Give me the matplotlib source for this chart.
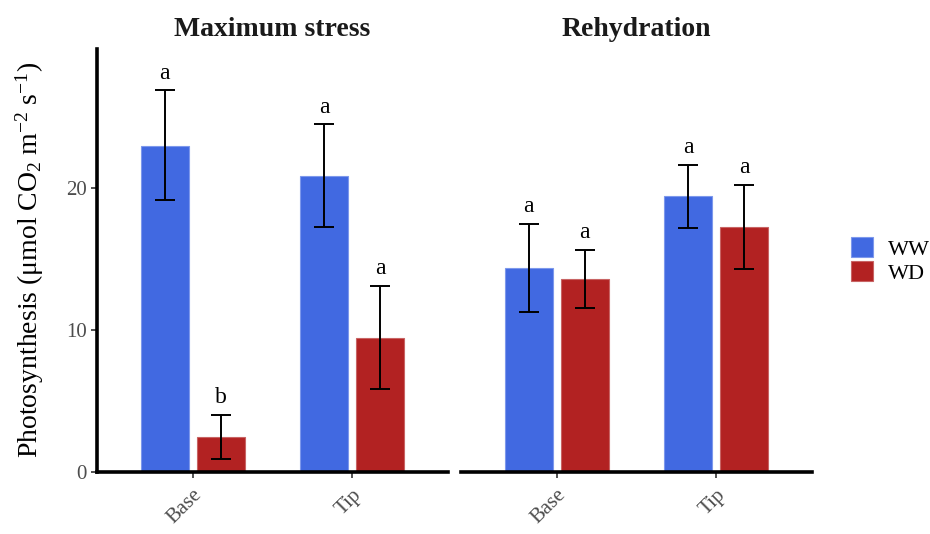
import matplotlib
matplotlib.use("Agg")
import matplotlib.pyplot as plt
import numpy as np
from matplotlib.patches import Patch

plt.rcParams['font.family'] = ['Liberation Serif', 'DejaVu Serif']
plt.rcParams['mathtext.fontset'] = 'custom'
plt.rcParams['mathtext.rm'] = 'Liberation Serif'
plt.rcParams['mathtext.it'] = 'Liberation Serif:italic'
plt.rcParams['mathtext.bf'] = 'Liberation Serif:bold'

# Photosynthesis means, errors and letters for each stage
stages = ['Maximum stress', 'Rehydration']
positions = ['Base', 'Tip']
treatments = ['WW', 'WD']
colors = {'WW': '#4169E1', 'WD': '#B22222'}
edges = {'WW': '#7D98EC', 'WD': '#C86464'}

means = {
    'Maximum stress': {'WW': [23.0, 20.9], 'WD': [2.45, 9.45]},
    'Rehydration': {'WW': [14.35, 19.45], 'WD': [13.6, 17.3]},
}
err_low = {
    'Maximum stress': {'WW': [19.15, 17.3], 'WD': [0.9, 5.8]},
    'Rehydration': {'WW': [11.25, 17.2], 'WD': [11.55, 14.3]},
}
err_high = {
    'Maximum stress': {'WW': [26.9, 24.5], 'WD': [4.0, 13.1]},
    'Rehydration': {'WW': [17.45, 21.65], 'WD': [15.65, 20.25]},
}
letters = {
    'Maximum stress': {'WW': ['a', 'a'], 'WD': ['b', 'a']},
    'Rehydration': {'WW': ['a', 'a'], 'WD': ['a', 'a']},
}

fig = plt.figure(figsize=(9.3, 5.34), dpi=100)
ax_left = fig.add_axes([0.1043, 0.1167, 0.3774, 0.7916])
ax_right = fig.add_axes([0.4957, 0.1167, 0.3774, 0.7916], sharey=ax_left)

x = np.arange(1, len(positions) + 1)
offsets = {'WW': -0.175, 'WD': 0.175}
grey = '#4D4D4D'

for ax, stage in zip([ax_left, ax_right], stages):
    for trt in treatments:
        xs = x + offsets[trt]
        m = np.array(means[stage][trt])
        lo = np.array(err_low[stage][trt])
        hi = np.array(err_high[stage][trt])
        ax.bar(xs, m, width=0.3, color=colors[trt], edgecolor=edges[trt],
               linewidth=0.8, zorder=2)
        ax.errorbar(xs, m, yerr=[m - lo, hi - m], fmt='none', ecolor='black',
                    elinewidth=1.4, capsize=7.5, capthick=1.4, zorder=3)
        for xi, top, lab in zip(xs, hi, letters[stage][trt]):
            ax.annotate(lab, (xi, top), xytext=(0, 5), textcoords='offset points',
                        ha='center', va='bottom', fontsize=17)
    ax.set_xlim(0.4, 2.6)
    ax.set_ylim(0, 29.83)
    ax.set_xticks(x)
    ax.set_xticklabels(positions, rotation=45, ha='right', va='top',
                       rotation_mode='anchor', fontsize=15, color=grey)
    ax.tick_params(axis='x', length=4, width=1.2, color='#333333', pad=6)
    for side in ['top', 'right']:
        ax.spines[side].set_visible(False)
    ax.spines['bottom'].set_linewidth(2.6)
    ax.spines['left'].set_linewidth(2.6)
    ax.set_title(stage, fontsize=20, fontweight='bold', pad=9, color='#1A1A1A')

ax_left.set_yticks([0, 10, 20])
ax_left.tick_params(axis='y', length=4, width=1.2, color='#333333',
                    labelsize=15, labelcolor=grey)
ax_right.spines['left'].set_visible(False)
ax_right.tick_params(axis='y', left=False, labelleft=False)

fig.text(0.032, 0.513, r'Photosynthesis ($\mathrm{\mu}$mol CO$_2$ m$^{-2}$ s$^{-1}$)',
         rotation=90, ha='center', va='center', fontsize=20)

handles = [Patch(facecolor=colors[t], edgecolor=edges[t], linewidth=0.8) for t in treatments]
fig.legend(handles, treatments, loc='center left', bbox_to_anchor=(0.915, 0.512),
           frameon=False, fontsize=16, handlelength=1.0, handleheight=1.0,
           handletextpad=0.65, labelspacing=0.08, borderpad=0, borderaxespad=0)

fig.savefig('out.png', dpi=100)
